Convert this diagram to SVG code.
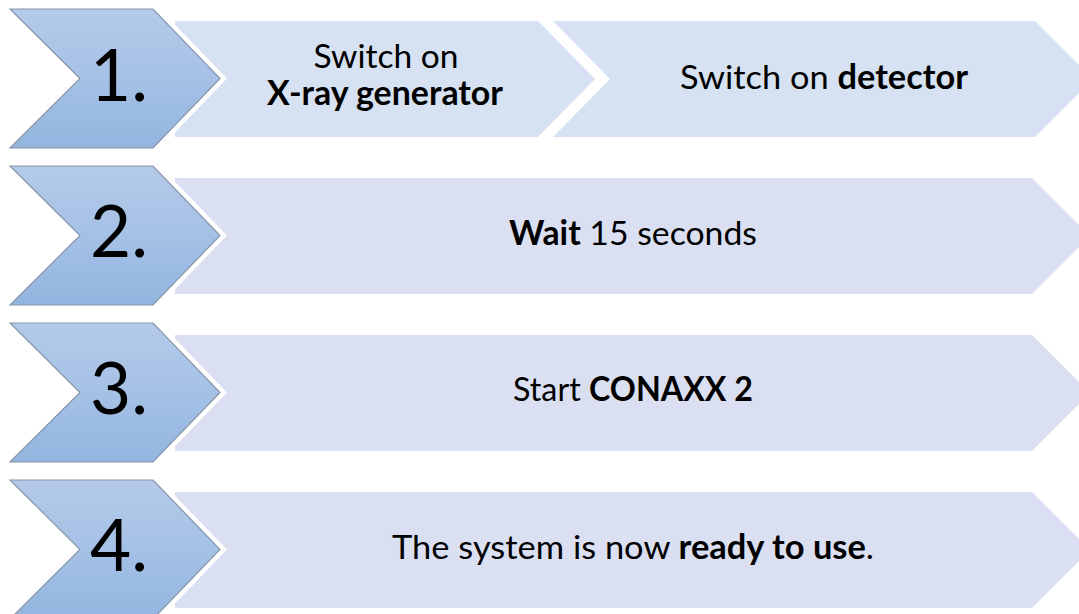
<svg xmlns="http://www.w3.org/2000/svg" width="1079" height="614" viewBox="0 0 1079 614">
<defs>
<linearGradient id="chevGrad" x1="0" y1="0" x2="0" y2="1">
<stop offset="0" stop-color="#b4cae9"/>
<stop offset="0.5" stop-color="#a5c1e6"/>
<stop offset="1" stop-color="#92b5df"/>
</linearGradient>
<style>
.chev-bg{fill:#ffffff;stroke:#ffffff;stroke-width:10;stroke-linejoin:miter}
.chev{fill:url(#chevGrad);stroke:#8796aa;stroke-width:1.2;stroke-linejoin:miter}
.panel1{fill:#d6e1f1}
.panel{fill:#dadff1}
.num{font-family:"Lato","Open Sans","Liberation Sans",sans-serif;font-size:71px;fill:#000000;text-anchor:middle}
.lbl{font-family:"Lato","Open Sans","Liberation Sans",sans-serif;font-size:33.5px;fill:#000000;text-anchor:middle}
.b{font-weight:bold}
</style>
</defs>
<rect width="1079" height="614" fill="#ffffff"/>

<g id="row1">
<g id="step1-a">
<polygon class="panel1" points="175,21 538,21 595,79 538,137 175,137"/>
<text class="lbl" x="386" y="68" textLength="145" lengthAdjust="spacingAndGlyphs">Switch on</text>
<text class="lbl b" x="385" y="105" textLength="236" lengthAdjust="spacingAndGlyphs">X-ray generator</text>
</g>
<g id="step1-b">
<polygon class="panel1" points="553,21 1035,21 1093,79 1035,137 553,137 610,79"/>
<text class="lbl" x="824" y="89" textLength="288" lengthAdjust="spacingAndGlyphs">Switch on <tspan class="b">detector</tspan></text>
</g>
<g id="chevron1">
<polygon class="chev-bg" points="10,9 153,9 220,78.5 153,148 10,148 80,78.5"/>
<polygon class="chev" points="10,9 153,9 220,78.5 153,148 10,148 80,78.5"/>
<text class="num" x="119" y="101">1.</text>
</g>
</g>

<g id="row2">
<g id="step2">
<polygon class="panel" points="175,178 1032,178 1090,236 1032,294 175,294"/>
<text class="lbl" x="633" y="245" textLength="248" lengthAdjust="spacingAndGlyphs"><tspan class="b">Wait</tspan> 15 seconds</text>
</g>
<g id="chevron2">
<polygon class="chev-bg" points="10,166 153,166 220,235.5 153,305 10,305 80,235.5"/>
<polygon class="chev" points="10,166 153,166 220,235.5 153,305 10,305 80,235.5"/>
<text class="num" x="119" y="257">2.</text>
</g>
</g>

<g id="row3">
<g id="step3">
<polygon class="panel" points="175,335 1032,335 1090,393 1032,451 175,451"/>
<text class="lbl" x="633" y="401" textLength="240" lengthAdjust="spacingAndGlyphs">Start <tspan class="b">CONAXX 2</tspan></text>
</g>
<g id="chevron3">
<polygon class="chev-bg" points="10,323 153,323 220,392.5 153,462 10,462 80,392.5"/>
<polygon class="chev" points="10,323 153,323 220,392.5 153,462 10,462 80,392.5"/>
<text class="num" x="119" y="414">3.</text>
</g>
</g>

<g id="row4">
<g id="step4">
<polygon class="panel" points="175,492 1032,492 1090,550 1032,608 175,608"/>
<text class="lbl" x="633" y="559" textLength="482" lengthAdjust="spacingAndGlyphs">The system is now <tspan class="b">ready to use</tspan>.</text>
</g>
<g id="chevron4">
<polygon class="chev-bg" points="10,480 153,480 220,549.5 153,619 10,619 80,549.5"/>
<polygon class="chev" points="10,480 153,480 220,549.5 153,619 10,619 80,549.5"/>
<text class="num" x="119" y="571">4.</text>
</g>
</g>

<g id="connectors"></g>
</svg>
